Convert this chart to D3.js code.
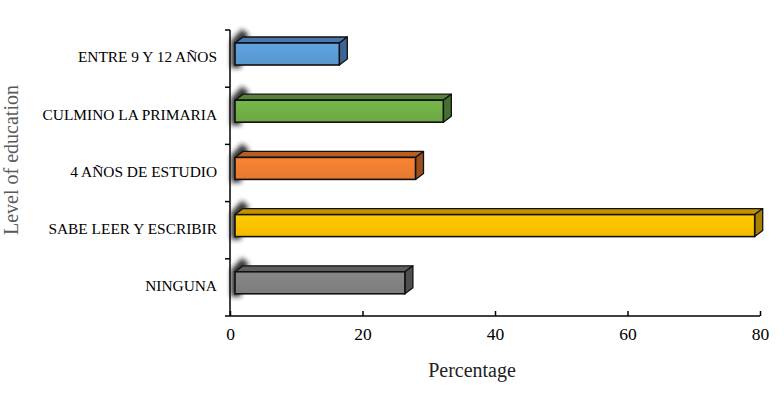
<!DOCTYPE html>
<html>
<head>
<meta charset="utf-8">
<script src="https://cdn.jsdelivr.net/npm/d3@7"></script>
</head>
<body style="margin:0; background:#fff">
<script>

// categories, top to bottom
var categories = ["ENTRE 9 Y 12 AÑOS", "CULMINO LA PRIMARIA", "4 AÑOS DE ESTUDIO", "SABE LEER Y ESCRIBIR", "NINGUNA"]
var values = [16.5, 32.2, 28.0, 79.2, 26.4]
var xTicks = [0, 20, 40, 60, 80]

// front, top, side colours per bar
var frontColors = ["#5b9bd5", "#70ad47", "#ed7d31", "#ffc000", "#808080"]
var topColors = ["#4a76b0", "#54843a", "#b85e22", "#c39200", "#5e5e5e"]
var sideColors = ["#3e6496", "#466f30", "#9c4f1c", "#a87e00", "#4f4f4f"]

var serif = "'Liberation Serif', serif"
var width = 784, height = 393
var margin = {left: 230, right: 24, top: 30, bottom: 77}

var svg = d3.select("body")
            .append("svg")
            .attr("width", width)
            .attr("height", height)

var x = d3.scaleLinear()
          .domain([0, 80])
          .range([margin.left, width - margin.right])

var y = d3.scaleBand()
          .domain(categories)
          .range([margin.top, height - margin.bottom])

// depth of the 3d bars
var dx = 8, dy = -6
var barH = 22

// blur used for the shadow at the left end of the bars
var defs = svg.append("defs")
defs.append("filter")
    .attr("id", "blur")
    .attr("x", "-50%").attr("y", "-50%")
    .attr("width", "200%").attr("height", "200%")
  .append("feGaussianBlur")
    .attr("stdDeviation", 2.8)

// light gradient over the front faces
frontColors.forEach(function(c, i) {
  var g = defs.append("linearGradient")
      .attr("id", "grad" + i)
      .attr("x1", 0).attr("y1", 0).attr("x2", 0).attr("y2", 1)
  g.append("stop").attr("offset", "0%").attr("stop-color", d3.color(c).brighter(0.15))
  g.append("stop").attr("offset", "100%").attr("stop-color", d3.color(c).darker(0.1))
})

var bars = svg.append("g")
  .selectAll("g")
  .data(categories)
  .enter().append("g")

bars.each(function(d, i) {
  var g = d3.select(this)
  var x0 = x(0) + 5
  var x1 = x(values[i])
  var y0 = y(d) + 13
  var y1 = y0 + barH

  // shadow
  g.append("path")
   .attr("d", "M" + (x0 - 4) + "," + (y1 + 3) + "L" + (x0 - 4) + "," + (y0 - 2) +
              "L" + (x0 + dx - 1) + "," + (y0 + dy - 8) + "L" + (x0 + dx + 6) + "," + (y0 + dy - 2) +
              "L" + (x0 + 6) + "," + (y0 + 4) + "L" + (x0 + 6) + "," + (y1 + 3) + "Z")
   .style("fill", "#1a1a1a")
   .style("opacity", 0.9)
   .attr("filter", "url(#blur)")

  // top face
  g.append("path")
   .attr("d", "M" + x0 + "," + y0 + "L" + (x0 + dx) + "," + (y0 + dy) +
              "L" + (x1 + dx) + "," + (y0 + dy) + "L" + x1 + "," + y0 + "Z")
   .style("fill", topColors[i])
   .style("stroke", "#111")
   .style("stroke-width", 1.3)
   .style("stroke-linejoin", "round")

  // side face
  g.append("path")
   .attr("d", "M" + x1 + "," + y0 + "L" + (x1 + dx) + "," + (y0 + dy) +
              "L" + (x1 + dx) + "," + (y1 + dy) + "L" + x1 + "," + y1 + "Z")
   .style("fill", sideColors[i])
   .style("stroke", "#111")
   .style("stroke-width", 1.3)
   .style("stroke-linejoin", "round")

  // front face
  g.append("rect")
   .attr("x", x0)
   .attr("y", y0)
   .attr("width", x1 - x0)
   .attr("height", barH)
   .style("fill", "url(#grad" + i + ")")
   .style("stroke", "#111")
   .style("stroke-width", 1.6)
})

// x axis
var xAxis = svg.append("g")
   .attr("transform", "translate(0," + (height - margin.bottom) + ")")
   .call(d3.axisBottom(x).tickValues(xTicks).tickSize(5).tickSizeOuter(0))
xAxis.select(".domain").attr("d", "M" + x(0) + ",0H" + x(80))
xAxis.selectAll("path, line").style("stroke", "#000").style("stroke-width", 1.5)
xAxis.selectAll("line").attr("y1", -5).attr("y2", 0)
xAxis.selectAll("text")
   .attr("y", 12)
   .style("font-size", "17.5px")
   .style("font-family", serif)
   .style("fill", "#000")

// y axis
var yTickPos = categories.map(function(c) { return y(c) }).concat([height - margin.bottom])
var yAxis = svg.append("g")
yAxis.append("line")
   .attr("x1", x(0)).attr("x2", x(0))
   .attr("y1", margin.top).attr("y2", height - margin.bottom)
   .style("stroke", "#000").style("stroke-width", 1.5)
yAxis.selectAll(".tk")
   .data(yTickPos)
   .enter().append("line")
   .attr("class", "tk")
   .attr("x1", x(0) - 5).attr("x2", x(0))
   .attr("y1", function(d) { return d }).attr("y2", function(d) { return d })
   .style("stroke", "#000").style("stroke-width", 1.5)

// category labels
svg.append("g")
  .selectAll("text")
  .data(categories)
  .enter().append("text")
   .attr("x", 217)
   .attr("y", function(d) { return y(d) + 27 })
   .attr("dy", "0.35em")
   .attr("text-anchor", "end")
   .style("font-family", serif)
   .style("font-size", "15.4px")
   .style("fill", "#000")
   .text(function(d) { return d })

// axis titles
svg.append("text")
   .attr("x", 472)
   .attr("y", 377)
   .attr("text-anchor", "middle")
   .style("font-family", serif)
   .style("font-size", "20px")
   .style("fill", "#222")
   .text("Percentage")

svg.append("text")
   .attr("transform", "translate(18,160) rotate(-90)")
   .attr("text-anchor", "middle")
   .style("font-family", serif)
   .style("font-size", "20px")
   .style("fill", "#595959")
   .text("Level of education")

</script>
</body>
</html>
